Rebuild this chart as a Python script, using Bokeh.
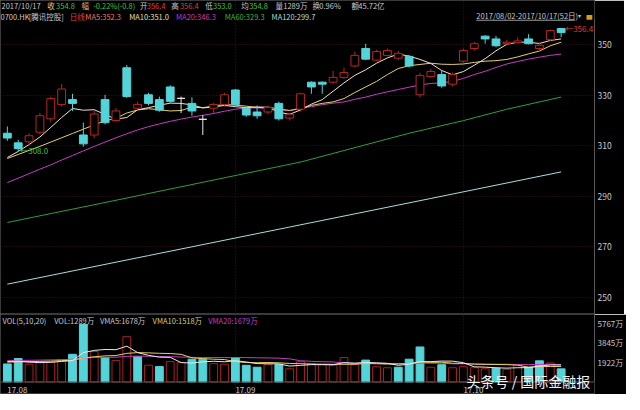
from bokeh.plotting import figure
from bokeh.models import Range1d, FixedTicker, Label, Span, Grid, ColumnDataSource, BoxAnnotation
from bokeh.layouts import column
from bokeh.embed import file_html
from bokeh.resources import INLINE
from bokeh.core.properties import value

# ------------------------------------------------------------------ data
month_labels = ["17.08", "17.09", "17.10"]
month_start = [0, 21, 42]

opens = [315.0, 311.2, 311.6, 315.4, 320.7, 326.4, 328.3, 314.3, 314.3, 328.3,
         320.0, 340.9, 324.9, 330.2, 328.3, 333.3, 328.8, 326.8, 320.5, 324.9,
         326.4, 332.1, 324.9, 323.4, 323.4, 326.8, 321.0, 324.5, 335.2, 335.2,
         335.2, 337.1, 341.6, 348.5, 343.9, 345.8, 344.7, 345.4, 330.2, 337.4,
         338.2, 334.4, 343.5, 348.5, 353.4, 352.3, 350.4, 350.8, 352.3, 348.5,
         352.0, 356.4]
highs = [317.7, 312.4, 315.0, 323.0, 329.5, 334.5, 330.6, 319.2, 324.0, 330.2,
         325.0, 342.0, 327.5, 331.0, 329.5, 334.0, 329.5, 329.2, 322.2, 327.0,
         331.0, 332.5, 325.5, 326.0, 326.0, 327.5, 323.0, 331.0, 335.5, 335.5,
         339.7, 341.0, 347.3, 350.4, 348.0, 348.5, 347.5, 346.0, 338.9, 340.5,
         339.7, 339.0, 348.5, 351.2, 353.8, 353.5, 352.0, 353.0, 354.2, 351.0,
         356.0, 356.4]
lows = [312.0, 308.0, 310.0, 314.5, 319.5, 325.5, 323.8, 309.7, 313.0, 318.5,
        319.5, 329.0, 324.0, 326.0, 323.5, 327.0, 323.0, 321.9, 314.3, 323.0,
        325.5, 326.0, 321.5, 320.7, 322.5, 320.0, 320.0, 323.5, 330.6, 330.6,
        334.5, 336.5, 341.0, 343.9, 343.5, 345.4, 344.0, 341.0, 329.1, 337.0,
        333.0, 333.5, 342.5, 347.7, 350.4, 349.0, 349.8, 350.5, 350.2, 347.3,
        351.5, 353.0]
closes = [313.1, 308.9, 314.0, 321.9, 328.7, 332.5, 326.8, 310.8, 322.6, 319.2,
          323.8, 329.5, 326.4, 326.8, 324.1, 327.6, 328.8, 323.8, 320.5, 326.4,
          330.2, 326.4, 322.2, 321.9, 325.3, 320.7, 322.5, 330.6, 333.3, 334.4,
          337.1, 339.0, 345.8, 344.3, 347.3, 347.7, 346.6, 341.6, 337.8, 339.4,
          333.7, 338.2, 347.7, 350.4, 352.3, 349.6, 351.0, 351.5, 350.4, 349.8,
          355.6, 354.8]
volumes = [1770, 2300, 1750, 1900, 1950, 2200, 2720, 5650, 3000, 2400,
           2100, 4450, 2490, 1650, 1510, 2000, 1900, 2240, 2240, 1800,
           1750, 2400, 1640, 1450, 1700, 1720, 1300, 2000, 1800, 1700,
           1650, 2400, 1700, 2150, 1500, 1400, 1450, 2240, 3440, 1450,
           1700, 1400, 1500, 1400, 1300, 1360, 1250, 1700, 1450, 2080,
           1870, 1289]

ma5 = [305.4, 307.8, 310.5, 313.5, 317.3, 321.2, 324.8, 324.1, 324.3, 322.4,
       320.6, 321.2, 324.3, 325.1, 326.1, 326.9, 326.8, 326.2, 325.0, 325.4,
       326.0, 325.5, 325.1, 325.4, 325.2, 323.3, 322.5, 324.2, 326.5, 328.3,
       331.6, 334.9, 337.9, 340.1, 342.7, 344.8, 346.3, 345.5, 344.2, 342.6,
       339.8, 338.1, 339.4, 341.9, 344.5, 347.6, 350.2, 351.0, 351.0, 350.5,
       351.7, 352.3]
ma10 = [305.0, 306.6, 308.2, 309.8, 311.5, 313.2, 314.9, 316.6, 318.3, 319.9,
        320.9, 323.0, 324.2, 324.7, 324.3, 323.8, 324.0, 325.3, 325.1, 325.8,
        326.4, 326.1, 325.7, 325.2, 325.3, 324.6, 324.0, 324.7, 326.0, 326.8,
        327.4, 328.7, 331.1, 333.3, 335.5, 338.2, 340.6, 341.7, 342.2, 342.7,
        342.3, 342.2, 342.4, 343.0, 343.5, 343.7, 344.2, 345.2, 346.4, 347.5,
        349.6, 351.0]
ma20 = [295.5, 297.2, 299.0, 300.8, 302.5, 304.4, 306.2, 308.0, 309.8, 311.5,
        313.2, 314.8, 316.3, 317.6, 318.7, 319.7, 320.6, 321.4, 322.1, 322.8,
        323.7, 324.5, 325.0, 325.0, 324.8, 324.2, 324.0, 325.0, 325.5, 326.3,
        326.9, 327.4, 328.4, 329.3, 330.4, 331.4, 332.3, 333.2, 334.1, 334.7,
        334.9, 335.5, 336.7, 338.2, 339.5, 341.0, 342.4, 343.4, 344.3, 345.1,
        345.8, 346.3]
ma60_idx = [0, 9, 18, 27, 37, 42, 46, 51]
ma60 = [279.7, 287.6, 295.6, 303.6, 315.0, 320.0, 324.5, 329.3]
ma120_idx = [0, 13, 26, 39, 51]
ma120 = [255.3, 266.6, 277.9, 289.2, 299.7]

vma5 = [2000, 2050, 1950, 1900, 1934, 2020, 2104, 2884, 3104, 3194,
        3174, 3520, 2888, 2618, 2440, 2420, 1910, 1860, 1978, 2036,
        1986, 2086, 1966, 1808, 1788, 1782, 1562, 1634, 1704, 1704,
        1690, 1910, 1850, 1920, 1880, 1830, 1640, 1748, 2006, 1996,
        2056, 2046, 1898, 1490, 1460, 1392, 1362, 1402, 1412, 1568,
        1670, 1678]
vma10 = [1950, 1980, 2000, 2020, 2050, 2100, 2150, 2350, 2480, 2564,
         2597, 2812, 2886, 2861, 2817, 2797, 2715, 2374, 2298, 2238,
         2203, 1998, 1913, 1893, 1912, 1884, 1824, 1800, 1756, 1746,
         1736, 1736, 1742, 1812, 1792, 1760, 1775, 1799, 1963, 1938,
         1943, 1843, 1823, 1748, 1728, 1724, 1704, 1650, 1451, 1508,
         1525, 1518]
vma20 = [2100, 2120, 2130, 2150, 2170, 2200, 2230, 2350, 2400, 2420,
         2430, 2520, 2540, 2530, 2500, 2480, 2450, 2420, 2400, 2401,
         2400, 2405, 2400, 2377, 2365, 2341, 2270, 2087, 2027, 1992,
         1970, 1867, 1828, 1853, 1852, 1822, 1800, 1800, 1860, 1842,
         1840, 1790, 1783, 1780, 1760, 1742, 1740, 1725, 1707, 1726,
         1737, 1679]

price_ticks = [250, 270, 290, 310, 330, 350]
vol_ticks = [1922, 3845, 5767]
vol_tick_labels = ["1922万", "3845万", "5767万"]

# ------------------------------------------------------------------ style
FONT = "Noto Sans CJK SC"
HSIZE = "7.5px"
BG = "#000000"
RED = "#b82626"
CYAN = "#54d4d8"
WHITE = "#e8e8e8"
C_MA5 = "#f0e0cc"
C_MA10 = "#e6cf66"
C_MA20 = "#c43cc4"
C_MA60 = "#2f9e3a"
C_MA120 = "#a8dede"
GRID = "#3c1414"
AXIS = "#585858"
LBL = "#c8c8c8"
GREEN = "#3cc43c"
TXT_RED = "#e03a3a"

SX = 624 / 640
FH_MAIN = 314
FH_VOL = 80
SY_MAIN = FH_MAIN / 327
SY_VOL = FH_VOL / 83

n = len(closes)
idx = list(range(n))


def make_fig(fh, yr):
    f = figure(frame_width=594, frame_height=fh, x_range=xr, y_range=yr,
               output_backend="svg", toolbar_location=None, title=None,
               x_axis_location=None, y_axis_location="right",
               min_border_left=0, min_border_right=30, min_border_top=0,
               min_border_bottom=0, background_fill_color=BG,
               border_fill_color=BG, outline_line_color="#3a3a3a")
    f.grid.visible = False
    return f


def style_axis(ax, ticks):
    ax.ticker = FixedTicker(ticks=ticks)
    ax.axis_line_color = AXIS
    ax.major_tick_in = 0
    ax.major_tick_out = 0
    ax.minor_tick_in = 0
    ax.minor_tick_out = 0
    ax.major_tick_line_color = None
    ax.minor_tick_line_color = None
    ax.major_label_text_color = LBL
    ax.major_label_text_font = FONT
    ax.major_label_text_font_size = "8.5px"
    ax.major_label_standoff = 3


def add_label(f, fh, sy, x, y, text, color, size=HSIZE, top_offset=0):
    f.add_layout(Label(x=x * SX, y=fh - (y - top_offset) * sy, x_units="screen",
                       y_units="screen", text=text, text_color=color,
                       text_font=FONT, text_font_size=size,
                       text_baseline="middle", text_align="left"))


xr = Range1d(-0.63, 54.07)

# ------------------------------------------------------------------ main panel
p = make_fig(FH_MAIN, Range1d(243.3, 367.5))
style_axis(p.yaxis[0], price_ticks)
p.yaxis[0].bounds = (243.3, 360.0)

p.add_layout(Grid(dimension=1, ticker=FixedTicker(ticks=price_ticks),
                  grid_line_color=GRID, grid_line_dash="1 2"))
p.add_layout(Grid(dimension=0, ticker=FixedTicker(ticks=month_start[1:]),
                  grid_line_color=GRID, grid_line_dash="1 2"))

# moving averages
p.line(ma120_idx, ma120, line_color=C_MA120, line_width=1)
p.line(ma60_idx, ma60, line_color=C_MA60, line_width=1)
p.line(idx, ma20, line_color=C_MA20, line_width=1)
p.line(idx, ma10, line_color=C_MA10, line_width=1)
p.line(idx, ma5, line_color=C_MA5, line_width=1)

up = [i for i in idx if closes[i] > opens[i]]
dn = [i for i in idx if closes[i] < opens[i]]
fl = [i for i in idx if closes[i] == opens[i]]


def candle_src(ii):
    return ColumnDataSource(dict(
        x=ii,
        h=[highs[i] for i in ii],
        l=[lows[i] for i in ii],
        top=[max(opens[i], closes[i]) for i in ii],
        bot=[min(opens[i], closes[i]) for i in ii]))


for ii, lc, fc in ((up, RED, BG), (dn, CYAN, CYAN), (fl, WHITE, WHITE)):
    s = candle_src(ii)
    p.segment(x0="x", y0="top", x1="x", y1="h", source=s, line_color=lc, line_width=1)
    p.segment(x0="x", y0="l", x1="x", y1="bot", source=s, line_color=lc, line_width=1)
    p.vbar(x="x", width=0.72, bottom="bot", top="top", source=s,
           fill_color=fc, line_color=lc, line_width=1)

# extreme markers
i_lo = lows.index(min(lows))
i_hi = highs.index(max(highs))
p.text(x=[i_lo], y=[lows[i_lo]], text=["←%.1f" % lows[i_lo]], text_color=GREEN,
       text_font=value(FONT), text_font_size="8px", text_align="left",
       text_baseline="middle", x_offset=2)
p.text(x=[i_hi], y=[highs[i_hi]], text=["←%.1f" % highs[i_hi]], text_color=TXT_RED,
       text_font=value(FONT), text_font_size="8px", text_align="left",
       text_baseline="middle", x_offset=4)

# header row 1
row1 = [(1, "2017/10/17", LBL), (48, "收", "#d8d890"), (57, "354.8", GREEN),
        (83, "幅", "#e0b060"), (95, "-0.22%(-0.8)", GREEN), (143, "开", LBL),
        (150, "356.4", TXT_RED), (175, "高", LBL), (184, "356.4", TXT_RED),
        (210, "低", LBL), (218, "353.0", GREEN), (247, "均", LBL),
        (255, "354.8", GREEN), (282, "量", LBL), (290, "1289万", LBL),
        (320, "换", LBL), (327, "0.96%", LBL), (360, "额", LBL),
        (367, "45.72亿", LBL)]
for x, t, c in row1:
    add_label(p, FH_MAIN, SY_MAIN, x, 5.5, t, c)

row2 = [(0, "0700.HK", LBL), (29, "[腾讯控股]", LBL), (71, "日线", TXT_RED),
        (87, "MA5:352.3", "#e87a66"), (132, "MA10:351.0", "#e8e0a0"),
        (180, "MA20:346.3", C_MA20), (230, "MA60:329.3", "#3cb43c"),
        (278, "MA120:299.7", C_MA120)]
for x, t, c in row2:
    add_label(p, FH_MAIN, SY_MAIN, x, 16.5, t, c)

add_label(p, FH_MAIN, SY_MAIN, 488, 15.5, "2017/08/02-2017/10/17(52日)", LBL)
add_label(p, FH_MAIN, SY_MAIN, 592, 15.5, "▾", LBL, size="6px")
p.add_layout(BoxAnnotation(left=488 * SX, right=589 * SX,
                           bottom=FH_MAIN - 21 * SY_MAIN, top=FH_MAIN - 20 * SY_MAIN,
                           left_units="screen", right_units="screen",
                           bottom_units="screen", top_units="screen",
                           fill_color="#9a9a9a", fill_alpha=1, line_color=None))
p.add_layout(BoxAnnotation(left=601 * SX, right=607 * SX,
                           bottom=FH_MAIN - 20 * SY_MAIN, top=FH_MAIN - 15 * SY_MAIN,
                           left_units="screen", right_units="screen",
                           bottom_units="screen", top_units="screen",
                           fill_color="#d89a20", fill_alpha=1, line_color=None))

# ------------------------------------------------------------------ volume panel
pv = make_fig(FH_VOL, Range1d(-1228, 6629))
style_axis(pv.yaxis[0], vol_ticks)
pv.yaxis[0].major_label_overrides = {t: l for t, l in zip(vol_ticks, vol_tick_labels)}
pv.yaxis[0].major_label_text_font_size = "8px"
pv.yaxis[0].bounds = (0, 6629)
pv.add_layout(Grid(dimension=0, ticker=FixedTicker(ticks=month_start[1:]),
                   grid_line_color=GRID, grid_line_dash="1 2"))
pv.add_layout(Span(location=0, dimension="width", line_color=AXIS, line_width=1))

v_up = [i for i in idx if (closes[i] >= closes[i - 1] if i > 0 else closes[i] >= opens[i])]
v_dn = [i for i in idx if i not in v_up]
pv.vbar(x=v_up, width=0.72, bottom=0, top=[volumes[i] for i in v_up],
        fill_color=BG, line_color="#a82020", line_width=1)
pv.vbar(x=v_dn, width=0.72, bottom=0, top=[volumes[i] for i in v_dn],
        fill_color=CYAN, line_color=CYAN, line_width=1)

pv.line(idx, vma20, line_color=C_MA20, line_width=1)
pv.line(idx, vma10, line_color=C_MA10, line_width=1)
pv.line(idx, vma5, line_color=WHITE, line_width=1)

vrow = [(2, "VOL(5,10,20)", LBL), (55, "VOL:1289万", LBL),
        (102, "VMA5:1678万", LBL), (156, "VMA10:1518万", "#d8d070"),
        (213, "VMA20:1679万", C_MA20)]
for x, t, c in vrow:
    add_label(pv, FH_VOL, SY_VOL, x, 333, t, c, top_offset=327)

for xi, t in zip(month_start, month_labels):
    pv.add_layout(Label(x=xi, y=FH_VOL - (405 - 327) * SY_VOL, x_units="data",
                        y_units="screen", text=t, text_color=LBL, text_font=FONT,
                        text_font_size="8px", text_baseline="middle",
                        text_align="left", x_offset=0))

add_label(pv, FH_VOL, SY_VOL, 478, 396, "头条号 / 国际金融报", "#f4f4f4",
          size="14px", top_offset=327)

layout = column(p, pv, spacing=0)
open("out.html", "w").write(file_html(layout, INLINE))
